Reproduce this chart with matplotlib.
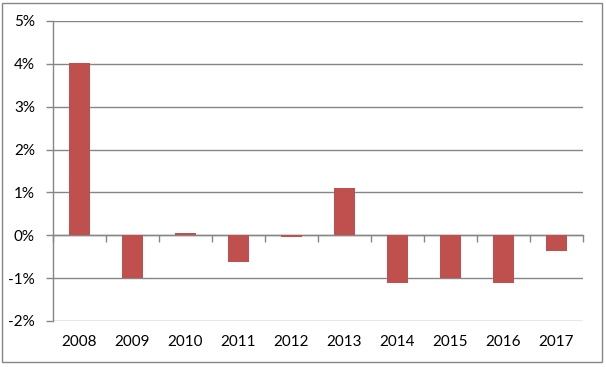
import matplotlib
matplotlib.use("Agg")
import matplotlib.pyplot as plt
from matplotlib.ticker import FuncFormatter
from matplotlib.patches import Rectangle
import numpy as np

years = ["2008", "2009", "2010", "2011", "2012", "2013", "2014", "2015", "2016", "2017"]
values = [4.03, -1.0, 0.05, -0.62, -0.04, 1.10, -1.11, -1.0, -1.11, -0.37]
y_ticks = [-2, -1, 0, 1, 2, 3, 4, 5]

plt.rcParams['font.family'] = ['Lato', 'DejaVu Sans']
grid_color = '#868686'
bar_color = '#C0504D'

fig = plt.figure(figsize=(6.06, 3.67), dpi=100)
ax = fig.add_axes([53/606, 1-321/367, (583-53)/606, (321-21)/367])

x = np.arange(len(years))
ax.bar(x, values, width=0.4, color=bar_color, zorder=3)

ymin, ymax = y_ticks[0], y_ticks[-1]
ax.set_ylim(ymin, ymax)
ax.set_xlim(-0.5, len(years) - 0.5)
ax.set_yticks(y_ticks)
ax.yaxis.set_major_formatter(FuncFormatter(lambda v, p: f"{int(v)}%"))
ax.grid(axis='y', color=grid_color, linewidth=1.0, zorder=0)
ax.set_axisbelow(True)

ax.set_xticks(x)
ax.set_xticklabels(years)
ax.tick_params(axis='x', length=0, pad=10, labelsize=11)
ax.tick_params(axis='y', length=5, width=1, color=grid_color, direction='out', pad=8, labelsize=11)

for s in ['top', 'right', 'bottom']:
    ax.spines[s].set_visible(False)
ax.spines['left'].set_color(grid_color)
ax.spines['left'].set_linewidth(1.0)

# zero-line category axis with tick marks at category boundaries
sec = ax.secondary_xaxis((0 - ymin) / (ymax - ymin))
sec.set_xticks(np.arange(len(years) + 1) - 0.5)
sec.set_xticklabels([])
sec.tick_params(axis='x', length=5, width=1, color=grid_color, direction='out')
sec.spines['bottom'].set_color(grid_color)
sec.spines['bottom'].set_linewidth(1.0)

# outer chart border
fig.patches.append(Rectangle((2/606, 1-362/367), (601.5-2)/606, (362-3)/367,
                             transform=fig.transFigure, fill=False,
                             edgecolor=grid_color, linewidth=1.0))

fig.savefig("out.png", dpi=100)
